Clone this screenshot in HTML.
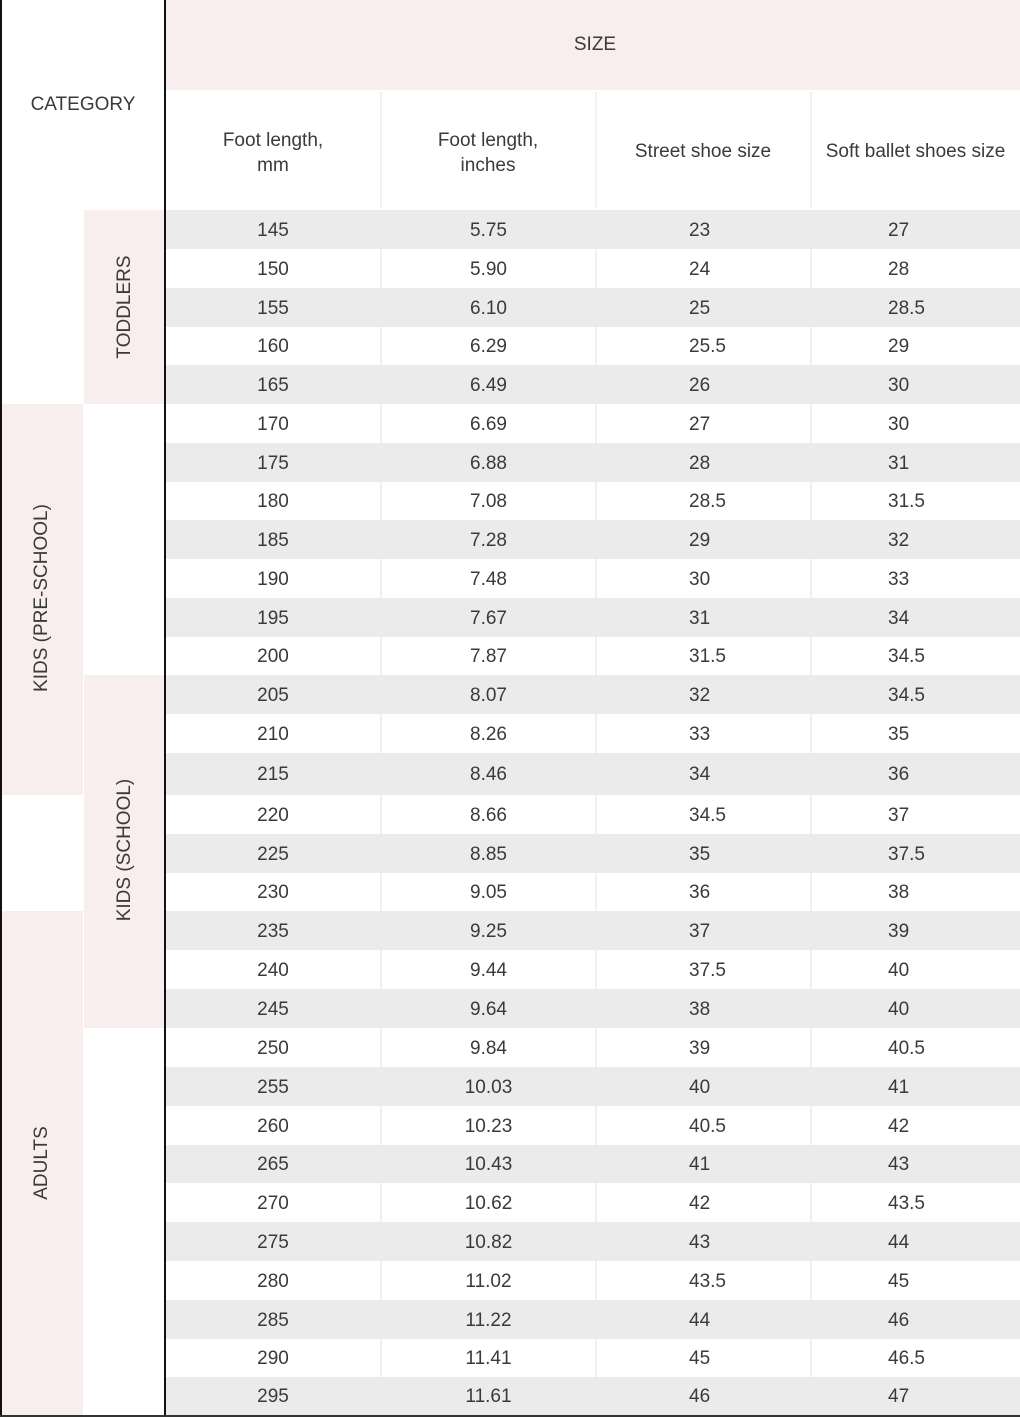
<!DOCTYPE html>
<html><head><meta charset="utf-8"><style>
body{margin:0;width:1020px;height:1417px;position:relative;background:#fff;font-family:"Liberation Sans",sans-serif;color:#3a3a3a;overflow:hidden}
.a{position:absolute}
.r{position:absolute;left:166px;width:854px;display:flex;align-items:stretch;font-size:19px}
.r span{display:flex;align-items:center;box-sizing:border-box;padding-top:2px}
.c1{width:214px;justify-content:center}
.c2{width:215px;justify-content:center;border-left:2px solid #f0f0f0}
.c3{width:215px;padding-left:92px;border-left:2px solid #f0f0f0}
.c4{width:210px;padding-left:76px;border-left:2px solid #f0f0f0}
.g{background:#ebebeb}.g span{border-left-color:#ebebeb}
.w{background:#fff}
.v{position:absolute;transform:translate(-50%,-50%) rotate(-90deg);white-space:nowrap;font-size:19px}
.h{font-size:19px;text-align:center;position:absolute}
</style></head><body>
<div class="a" style="left:166px;top:0;width:854px;height:90px;background:#f8eeee"></div>
<div class="h" style="left:166px;width:858px;top:34px">SIZE</div>
<div class="h" style="left:0;width:166px;top:94px">CATEGORY</div>
<div class="a" style="left:380px;top:92px;width:2px;height:116px;background:#f2f2f2"></div>
<div class="a" style="left:595px;top:92px;width:2px;height:116px;background:#f2f2f2"></div>
<div class="a" style="left:810px;top:92px;width:2px;height:116px;background:#f2f2f2"></div>
<div class="h" style="left:166px;width:214px;top:128px;line-height:25px">Foot length,<br>mm</div>
<div class="h" style="left:381px;width:214px;top:128px;line-height:25px">Foot length,<br>inches</div>
<div class="h" style="left:596px;width:214px;top:141px">Street shoe size</div>
<div class="h" style="left:811px;width:209px;top:141px">Soft ballet shoes size</div>

<div class="a" style="left:84px;top:210px;width:81px;height:194px;background:#f8eeee"></div>
<div class="a" style="left:2px;top:404px;width:81px;height:391px;background:#f8eeee"></div>
<div class="a" style="left:84px;top:675px;width:81px;height:353px;background:#f8eeee"></div>
<div class="a" style="left:2px;top:911px;width:81px;height:504px;background:#f8eeee"></div>
<div class="v" style="left:125px;top:307px">TODDLERS</div>
<div class="v" style="left:42px;top:598px">KIDS (PRE-SCHOOL)</div>
<div class="v" style="left:125px;top:850px">KIDS (SCHOOL)</div>
<div class="v" style="left:42px;top:1163px">ADULTS</div>

<div class="r g" style="top:210px;height:39px"><span class="c1">145</span><span class="c2">5.75</span><span class="c3">23</span><span class="c4">27</span></div>
<div class="r w" style="top:249px;height:39px"><span class="c1">150</span><span class="c2">5.90</span><span class="c3">24</span><span class="c4">28</span></div>
<div class="r g" style="top:288px;height:39px"><span class="c1">155</span><span class="c2">6.10</span><span class="c3">25</span><span class="c4">28.5</span></div>
<div class="r w" style="top:327px;height:38px"><span class="c1">160</span><span class="c2">6.29</span><span class="c3">25.5</span><span class="c4">29</span></div>
<div class="r g" style="top:365px;height:39px"><span class="c1">165</span><span class="c2">6.49</span><span class="c3">26</span><span class="c4">30</span></div>
<div class="r w" style="top:404px;height:39px"><span class="c1">170</span><span class="c2">6.69</span><span class="c3">27</span><span class="c4">30</span></div>
<div class="r g" style="top:443px;height:39px"><span class="c1">175</span><span class="c2">6.88</span><span class="c3">28</span><span class="c4">31</span></div>
<div class="r w" style="top:482px;height:38px"><span class="c1">180</span><span class="c2">7.08</span><span class="c3">28.5</span><span class="c4">31.5</span></div>
<div class="r g" style="top:520px;height:39px"><span class="c1">185</span><span class="c2">7.28</span><span class="c3">29</span><span class="c4">32</span></div>
<div class="r w" style="top:559px;height:39px"><span class="c1">190</span><span class="c2">7.48</span><span class="c3">30</span><span class="c4">33</span></div>
<div class="r g" style="top:598px;height:39px"><span class="c1">195</span><span class="c2">7.67</span><span class="c3">31</span><span class="c4">34</span></div>
<div class="r w" style="top:637px;height:38px"><span class="c1">200</span><span class="c2">7.87</span><span class="c3">31.5</span><span class="c4">34.5</span></div>
<div class="r g" style="top:675px;height:39px"><span class="c1">205</span><span class="c2">8.07</span><span class="c3">32</span><span class="c4">34.5</span></div>
<div class="r w" style="top:714px;height:39px"><span class="c1">210</span><span class="c2">8.26</span><span class="c3">33</span><span class="c4">35</span></div>
<div class="r g" style="top:753px;height:42px"><span class="c1">215</span><span class="c2">8.46</span><span class="c3">34</span><span class="c4">36</span></div>
<div class="r w" style="top:795px;height:39px"><span class="c1">220</span><span class="c2">8.66</span><span class="c3">34.5</span><span class="c4">37</span></div>
<div class="r g" style="top:834px;height:39px"><span class="c1">225</span><span class="c2">8.85</span><span class="c3">35</span><span class="c4">37.5</span></div>
<div class="r w" style="top:873px;height:38px"><span class="c1">230</span><span class="c2">9.05</span><span class="c3">36</span><span class="c4">38</span></div>
<div class="r g" style="top:911px;height:39px"><span class="c1">235</span><span class="c2">9.25</span><span class="c3">37</span><span class="c4">39</span></div>
<div class="r w" style="top:950px;height:39px"><span class="c1">240</span><span class="c2">9.44</span><span class="c3">37.5</span><span class="c4">40</span></div>
<div class="r g" style="top:989px;height:39px"><span class="c1">245</span><span class="c2">9.64</span><span class="c3">38</span><span class="c4">40</span></div>
<div class="r w" style="top:1028px;height:39px"><span class="c1">250</span><span class="c2">9.84</span><span class="c3">39</span><span class="c4">40.5</span></div>
<div class="r g" style="top:1067px;height:39px"><span class="c1">255</span><span class="c2">10.03</span><span class="c3">40</span><span class="c4">41</span></div>
<div class="r w" style="top:1106px;height:39px"><span class="c1">260</span><span class="c2">10.23</span><span class="c3">40.5</span><span class="c4">42</span></div>
<div class="r g" style="top:1145px;height:38px"><span class="c1">265</span><span class="c2">10.43</span><span class="c3">41</span><span class="c4">43</span></div>
<div class="r w" style="top:1183px;height:39px"><span class="c1">270</span><span class="c2">10.62</span><span class="c3">42</span><span class="c4">43.5</span></div>
<div class="r g" style="top:1222px;height:39px"><span class="c1">275</span><span class="c2">10.82</span><span class="c3">43</span><span class="c4">44</span></div>
<div class="r w" style="top:1261px;height:39px"><span class="c1">280</span><span class="c2">11.02</span><span class="c3">43.5</span><span class="c4">45</span></div>
<div class="r g" style="top:1300px;height:39px"><span class="c1">285</span><span class="c2">11.22</span><span class="c3">44</span><span class="c4">46</span></div>
<div class="r w" style="top:1339px;height:38px"><span class="c1">290</span><span class="c2">11.41</span><span class="c3">45</span><span class="c4">46.5</span></div>
<div class="r g" style="top:1377px;height:38px"><span class="c1">295</span><span class="c2">11.61</span><span class="c3">46</span><span class="c4">47</span></div>

<div class="a" style="left:0;top:0;width:2px;height:1417px;background:#111"></div>
<div class="a" style="left:164px;top:0;width:2px;height:1417px;background:#111"></div>
<div class="a" style="left:0;top:1415px;width:1020px;height:2px;background:#333"></div>
</body></html>
